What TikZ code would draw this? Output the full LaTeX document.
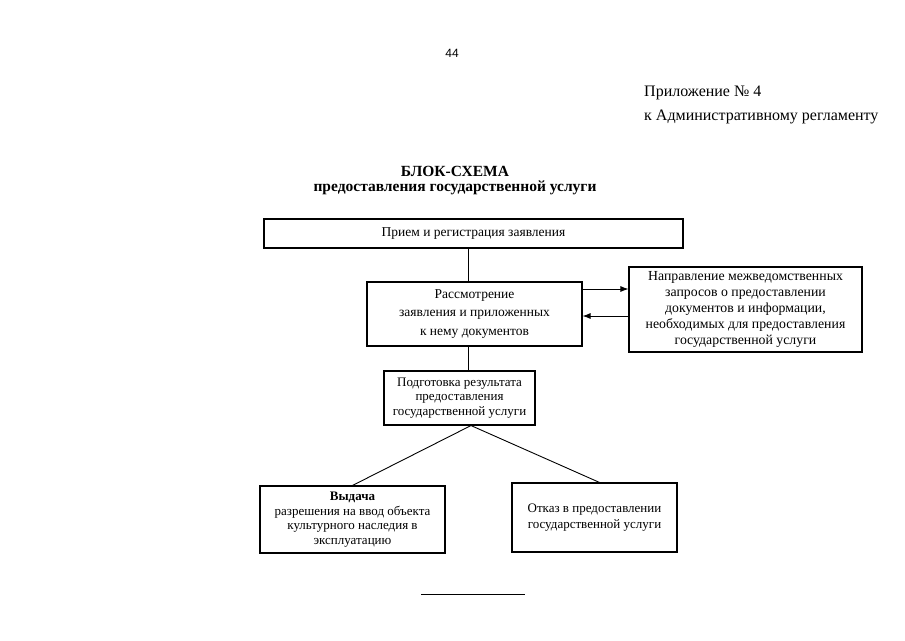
\documentclass[tikz,border=0pt]{standalone}
\usepackage{fontspec}
\setmainfont{Liberation Serif}
\newfontfamily\numfont{Liberation Sans}
\usetikzlibrary{positioning,arrows.meta}

\begin{document}
\begin{tikzpicture}[x=1pt,y=-1pt,
    every node/.style={font=\fontsize{13}{14.5}\selectfont},
    blok/.style={draw,line width=1.1pt,align=center,inner sep=0pt},
    shapka/.style={anchor=west,inner sep=0pt,font=\fontsize{16}{18}\selectfont},
    zagolovok/.style={font=\bfseries\fontsize{15.5}{17}\selectfont},
    svyaz/.style={line width=0.9pt},
    strelka/.style={line width=0.9pt,-{Latex[length=8pt,width=6pt]}}]
    \useasboundingbox (0,0) rectangle (905,640);

    % page head
    \node[font=\numfont\fontsize{12}{14}\selectfont] (nomer) at (452,53) {44};
    \node[shapka] (pril) at (644,93) {Приложение № 4};
    \node[shapka] (regl) at (644,117) {к Административному регламенту};

    % title
    \node[zagolovok] (zag1) at (455,171) {БЛОК-СХЕМА};
    \node[zagolovok] (zag2) at (455,188) {предоставления государственной услуги};

    % main chain
    \node[blok,minimum width=419pt,minimum height=29pt,font=\fontsize{13.5}{15}\selectfont] (priem) at (473.5,233.5)
      {Прием и регистрация заявления};
    \node[blok,minimum width=215pt,minimum height=64pt,font=\fontsize{13.5}{18.5}\selectfont] (rassm) at (474.5,314)
      {Рассмотрение\\заявления и приложенных\\к нему документов};
    \node[blok,minimum width=233pt,minimum height=85pt,font=\fontsize{13.8}{16}\selectfont] (zapros) at (745.5,309.5)
      {Направление межведомственных\\запросов о предоставлении\\документов и информации,\\необходимых для предоставления\\государственной услуги};
    \node[blok,minimum width=151pt,minimum height=54pt] (podg) at (459.5,398)
      {Подготовка результата\\предоставления\\государственной услуги};

    % two outcomes
    \node[blok,minimum width=185pt,minimum height=67pt] (vydacha) at (352.5,519.5)
      {\textbf{Выдача}\\разрешения на ввод объекта\\культурного наследия в\\эксплуатацию};
    \node[blok,minimum width=165pt,minimum height=69pt,font=\fontsize{13}{16}\selectfont] (otkaz) at (594.5,517.5)
      {Отказ в предоставлении\\государственной услуги};

    % connectors
    \coordinate (os) at (468,0);
    \draw[svyaz] (priem.south -| os) -- (rassm.north -| os);
    \draw[svyaz] (rassm.south -| os) -- (podg.north -| os);
    \coordinate (tuda) at (0,289);
    \coordinate (obratno) at (0,316);
    \draw[strelka] (rassm.east |- tuda) -- (zapros.west |- tuda);
    \draw[strelka] (zapros.west |- obratno) -- (rassm.east |- obratno);
    \coordinate (razv) at (471,0);
    \draw[svyaz] (vydacha.north) -- (podg.south -| razv) -- ([xshift=5pt]otkaz.north);

    % closing rule
    \draw[svyaz] (421,594) -- (525,594);
\end{tikzpicture}
\end{document}
